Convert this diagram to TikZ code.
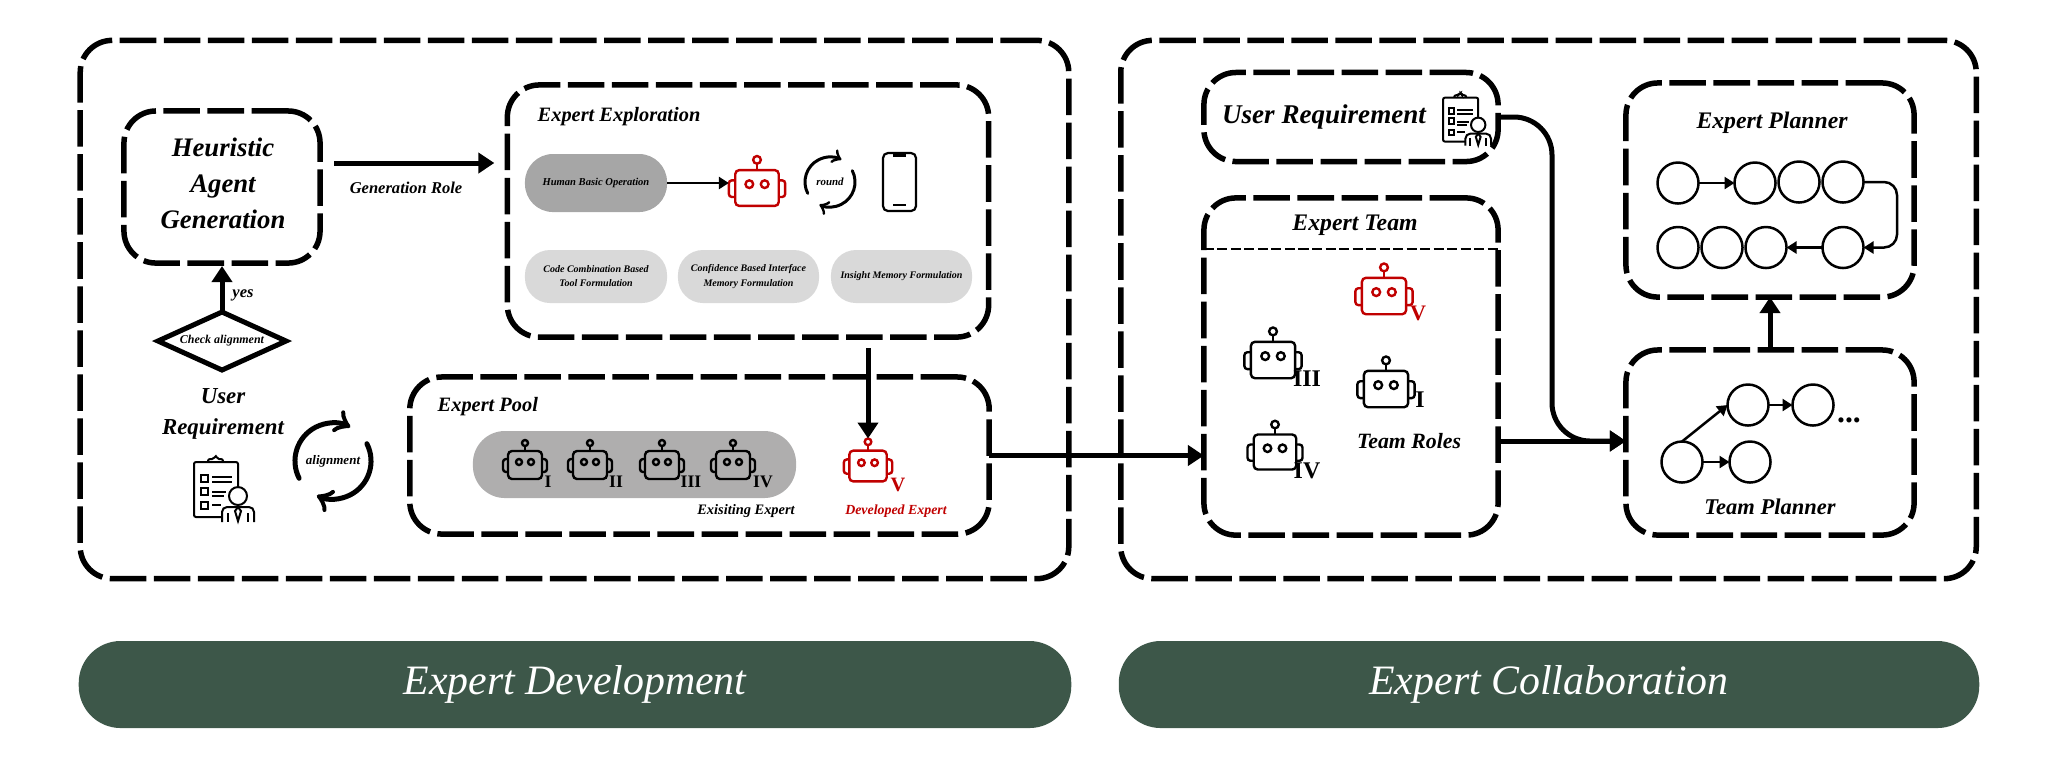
\documentclass[tikz,border=0pt]{standalone}
\usepackage{fontspec}
\setmainfont{Liberation Serif}
\usetikzlibrary{arrows.meta}
\usetikzlibrary{shapes}
\definecolor{devgreen}{HTML}{3D5749}
\definecolor{botred}{HTML}{C00000}
\definecolor{pooldark}{HTML}{AFAEAE}
\definecolor{humandark}{HTML}{A6A6A6}
\definecolor{pilllight}{HTML}{D9D9D9}
\newcommand{\bisize}[2]{\fontsize{#1}{#2}\selectfont\bfseries\itshape}
\tikzset{
  dashbox/.style={draw, line width=0.055cm, dash pattern=on 0.365cm off 0.075cm, rounded corners=0.32cm, inner sep=0pt, outer sep=0pt},
  pillbox/.style={inner sep=0pt, outer sep=0pt, rounded corners=0.25cm, align=center, minimum width=1.42cm, minimum height=0.53cm, fill=pilllight, font=\bisize{2.85}{4}},
  banner/.style={fill=devgreen, text=white, rounded corners=0.42cm, inner sep=0pt, outer sep=0pt, minimum height=0.87cm, font=\fontsize{11.9}{14}\selectfont\itshape},
  planstep/.style={draw, circle, line width=0.025cm, minimum size=0.41cm, inner sep=0pt, outer sep=0pt},
  bigarrow/.style={line width=0.05cm, -{Triangle[length=1.6mm,width=2mm]}},
  smallarrow/.style={line width=0.025cm, -{Triangle[length=1mm,width=1.2mm]}},
  cyclearrow/.style={line cap=round, line join=round},
  numeral/.style={inner sep=0pt, font=\fontsize{#1}{#1}\selectfont\bfseries},
  pics/robot/.style={code={
    \draw[line width=0.024cm, rounded corners=0.04cm] (-17,-14) rectangle (17,14);
    \draw[line width=0.024cm, rounded corners=0.03cm] (-17,-6) -- (-22,-6) -- (-22,7) -- (-17,7);
    \draw[line width=0.024cm, rounded corners=0.03cm] (17,-6) -- (22,-6) -- (22,7) -- (17,7);
    \draw[line width=0.024cm] (0,-14) -- (0,-19);
    \draw[line width=0.024cm] (0,-22) circle (3);
    \draw[line width=0.024cm] (-6,-3) circle (3);
    \draw[line width=0.024cm] (6,-3) circle (3);
    \coordinate (-top) at (0,-25);
    \coordinate (-left) at (-22,0);
  }},
  pics/userreq/.style={code={
    \draw[line width=0.02cm, rounded corners=0.02cm] (14,-2) -- (14,-28) -- (-30,-28) -- (-30,27) -- (-2,27);
    \draw[line width=0.02cm, rounded corners=0.02cm] (-16,-28) -- (-16,-31) -- (-10,-31) -- (-8,-35) -- (-7,-31) -- (-1,-31) -- (-1,-28);
    \draw[line width=0.02cm] (-23,-15) rectangle (-16,-8);
    \draw[line width=0.02cm] (-23,-2) rectangle (-16,5);
    \draw[line width=0.02cm] (-23,12) rectangle (-16,19);
    \draw[line width=0.02cm] (-12,-13) -- (8,-13) (-12,-8) -- (8,-8) (-12,2) -- (2,2) (-12,6) -- (0,6) (-12,15) -- (-3,15);
    \draw[line width=0.02cm] (14,6) circle (9);
    \draw[line width=0.02cm, rounded corners=0.05cm] (-2,32) -- (-2,17) -- (30,17) -- (30,32);
    \draw[line width=0.02cm] (14,17) -- (11,21) -- (14,31) -- (17,21) -- cycle;
    \draw[line width=0.02cm] (4,23) -- (4,32) (24,23) -- (24,32);
  }}
}
\begin{document}
\begin{tikzpicture}[x=0.01cm, y=-0.01cm]
          \useasboundingbox (0,0) rectangle (2070,756);
          \node[dashbox, minimum width=9.88cm, minimum height=5.38cm] (devbox) at (574.5,309.5) {};
          \node[dashbox, minimum width=8.55cm, minimum height=5.38cm] (colbox) at (1548.5,309.5) {};
          \node[banner, minimum width=9.92cm] (devbanner) at (575,684.5) {Expert Development};
          \node[banner, minimum width=8.6cm] (colbanner) at (1549,684.5) {Expert Collaboration};

          \node[dashbox, minimum width=1.96cm, minimum height=1.52cm] (heuristic) at (222,187) {};
          \node[align=center, inner sep=0pt, font=\bisize{7.6}{10.2}] (heuristictext) at (223,183) {Heuristic\\Agent\\Generation};
          \node[dashbox, minimum width=4.81cm, minimum height=2.52cm] (exploration) at (748,211) {};
          \node[dashbox, minimum width=5.79cm, minimum height=1.57cm] (pool) at (699.5,455.5) {};
          \coordinate (genrow) at (0,163);
          \draw[bigarrow, shorten <=0.14cm, shorten >=0.13cm] (heuristic.east |- genrow) -- (exploration.west |- genrow);
          \node[inner sep=0pt, font=\bisize{4.7}{6}] (genrole) at (406,188) {Generation Role};

          \node[draw, diamond, aspect=2.1, line width=0.05cm, minimum width=1.28cm, minimum height=0.58cm, inner sep=0pt, outer sep=0pt] (check) at (222,341) {};
          \node[inner sep=0pt, font=\bisize{3.4}{4}] (checktext) at (222,341) {Check alignment};
          \draw[bigarrow, shorten >=0.03cm] (check.north) -- (heuristic.south);
          \node[inner sep=0pt, font=\bisize{4.7}{6}] (yes) at (243,295) {yes};
          \node[align=center, inner sep=0pt, font=\bisize{6.5}{8.8}] (userleft) at (223,414) {User\\Requirement};
          \pic (iconleft) at (224,490) {userreq};
          \coordinate (aligncenter) at (333,461);
          \node[inner sep=0pt, font=\bisize{3.7}{4}] (aligntext) at (333,461) {alignment};
          \draw[cyclearrow, line width=0.05cm, -{Classical TikZ Rightarrow[length=1.5mm,width=2.4mm]}] (aligncenter) ++(207:0.38cm) arc[start angle=207, end angle=63, radius=0.38cm];
          \draw[cyclearrow, line width=0.05cm, -{Classical TikZ Rightarrow[length=1.5mm,width=2.4mm]}] (aligncenter) ++(27:0.38cm) arc[start angle=27, end angle=-115, radius=0.38cm];

          \node[inner sep=0pt, anchor=west, font=\bisize{5.8}{7}] (exptitle) at (537,117) {Expert Exploration};
          \node[pillbox, fill=humandark, rounded corners=0.28cm, minimum height=0.58cm, font=\bisize{3}{4}] (human) at (596,183) {Human Basic Operation};
          \pic[scale=1.28, color=botred] (expbot) at (757,188) {robot};
          \draw[smallarrow] (human.east) -- (expbot-left |- human.east);
          \coordinate (roundcenter) at (830,182);
          \node[inner sep=0pt, font=\bisize{3.1}{4}] (roundtext) at (830,182) {round};
          \draw[cyclearrow, line width=0.03cm, -{Classical TikZ Rightarrow[length=0.9mm,width=1.5mm]}] (roundcenter) ++(207:0.25cm) arc[start angle=207, end angle=63, radius=0.25cm];
          \draw[cyclearrow, line width=0.03cm, -{Classical TikZ Rightarrow[length=0.9mm,width=1.5mm]}] (roundcenter) ++(27:0.25cm) arc[start angle=27, end angle=-115, radius=0.25cm];
          \node[draw, line width=0.022cm, rounded corners=0.05cm, minimum width=0.33cm, minimum height=0.58cm, inner sep=0pt] (phone) at (899.5,182) {};
          \fill (893,153) rectangle (906,157);
          \draw[line width=0.012cm] (893,205) -- (906,205);
          \node[pillbox] (toolpill) at (596,276.5) {Code Combination Based\\Tool Formulation};
          \node[pillbox, minimum width=1.41cm] (memorypill) at (748.5,276.5) {Confidence Based Interface\\Memory Formulation};
          \node[pillbox, minimum width=1.41cm] (insightpill) at (901.5,276.5) {Insight Memory Formulation};

          \node[inner sep=0pt, anchor=west, font=\bisize{5.8}{7}] (pooltitle) at (437,407) {Expert Pool};
          \node[fill=pooldark, rounded corners=0.32cm, minimum width=3.23cm, minimum height=0.67cm, inner sep=0pt] (poolpill) at (634.5,464.5) {};
          \pic (poolI) at (525,465) {robot};
          \pic (poolII) at (590,465) {robot};
          \pic (poolIII) at (662,465) {robot};
          \pic (poolIV) at (733,465) {robot};
          \pic[scale=1.1, color=botred] (poolV) at (868,466) {robot};
          \node[numeral=5] (numI) at (548,482) {I};
          \node[numeral=5] (numII) at (616,482) {II};
          \node[numeral=5] (numIII) at (691,482) {III};
          \node[numeral=5] (numIV) at (763,482) {IV};
          \node[numeral=5.8, text=botred] (numV) at (898,485) {V};
          \node[inner sep=0pt, font=\bisize{4.1}{5}] (existing) at (746,511) {Exisiting Expert};
          \node[inner sep=0pt, text=botred, font=\bisize{3.95}{5}] (developed) at (896,511) {Developed Expert};
          \draw[bigarrow, shorten <=0.11cm] (exploration.south -| poolV-top) -- (poolV-top);

          \node[dashbox, minimum width=2.94cm, minimum height=0.89cm] (userbox) at (1351,117) {};
          \node[inner sep=0pt, font=\bisize{7.7}{9}] (usertext) at (1324,117) {User Requirement};
          \pic[scale=0.8] (iconright) at (1467,120) {userreq};
          \node[dashbox, minimum width=2.94cm, minimum height=3.37cm] (team) at (1351,366.5) {};
          \node[inner sep=0pt, font=\bisize{6.75}{8}] (teamtitle) at (1355,225) {Expert Team};
          \draw[line width=0.025cm, dash pattern=on 0.1cm off 0.035cm] (team.west |- 0,249) -- (team.east |- 0,249);
          \pic[scale=1.3, color=botred] (teamV) at (1384,296) {robot};
          \pic[scale=1.3] (teamIII) at (1273,360) {robot};
          \pic[scale=1.3] (teamI) at (1386,389) {robot};
          \pic[scale=1.25] (teamIV) at (1275,452) {robot};
          \node[numeral=6.3, text=botred] (teamnumV) at (1418,313) {V};
          \node[numeral=6.8] (teamnumIII) at (1307,379) {III};
          \node[numeral=6.8] (teamnumI) at (1420,400) {I};
          \node[numeral=6.8] (teamnumIV) at (1307,471) {IV};
          \node[inner sep=0pt, font=\bisize{6.2}{8}] (teamroles) at (1409,441) {Team Roles};
          \draw[bigarrow] (pool.east) -- (pool.east -| team.west);

          \node[dashbox, minimum width=2.88cm, minimum height=2.14cm] (expplanner) at (1770,190) {};
          \node[dashbox, minimum width=2.88cm, minimum height=1.85cm] (teamplanner) at (1770,442.5) {};
          \node[inner sep=0pt, font=\bisize{6.75}{8}] (expplantitle) at (1772,123) {Expert Planner};
          \node[inner sep=0pt, font=\bisize{6.4}{8}] (teamplantitle) at (1770,507) {Team Planner};
          \draw[bigarrow] (teamplanner.north) -- (expplanner.south);
          \coordinate (turn) at (1552,300);
          \draw[bigarrow] (team.east |- teamroles) -- (teamplanner.west |- teamroles);
          \draw[bigarrow, rounded corners=0.38cm] (userbox.east) -- (userbox.east -| turn) -- (turn |- teamroles) -- (teamplanner.west |- teamroles);

          \node[planstep] (topA) at (1678,183) {};
          \node[planstep] (topB) at (1755,183) {};
          \node[planstep] (topC) at (1799,182) {};
          \node[planstep] (topD) at (1843,182) {};
          \node[planstep] (botA) at (1678,247.5) {};
          \node[planstep] (botB) at (1722,247.5) {};
          \node[planstep] (botC) at (1766,247.5) {};
          \node[planstep] (botD) at (1843,247.5) {};
          \coordinate (loopturn) at (1897,215);
          \draw[smallarrow] (topA) -- (topB);
          \draw[smallarrow] (botD) -- (botC);
          \draw[smallarrow, rounded corners=0.13cm] (topD.east) -- (topD.east -| loopturn) -- (botD.east -| loopturn) -- (botD.east);

          \node[planstep] (teamA) at (1682,462) {};
          \node[planstep] (teamB) at (1750,462) {};
          \node[planstep] (teamC) at (1748,405) {};
          \node[planstep] (teamD) at (1813,405) {};
          \draw[smallarrow] (teamA) -- (teamB);
          \draw[smallarrow] (teamC) -- (teamD);
          \draw[smallarrow] (teamA.north) -- (teamC.west);
          \node[inner sep=0pt, font=\fontsize{9}{10}\selectfont\bfseries] (moredots) at (1849,420) {...};
        \end{tikzpicture}
\end{document}
